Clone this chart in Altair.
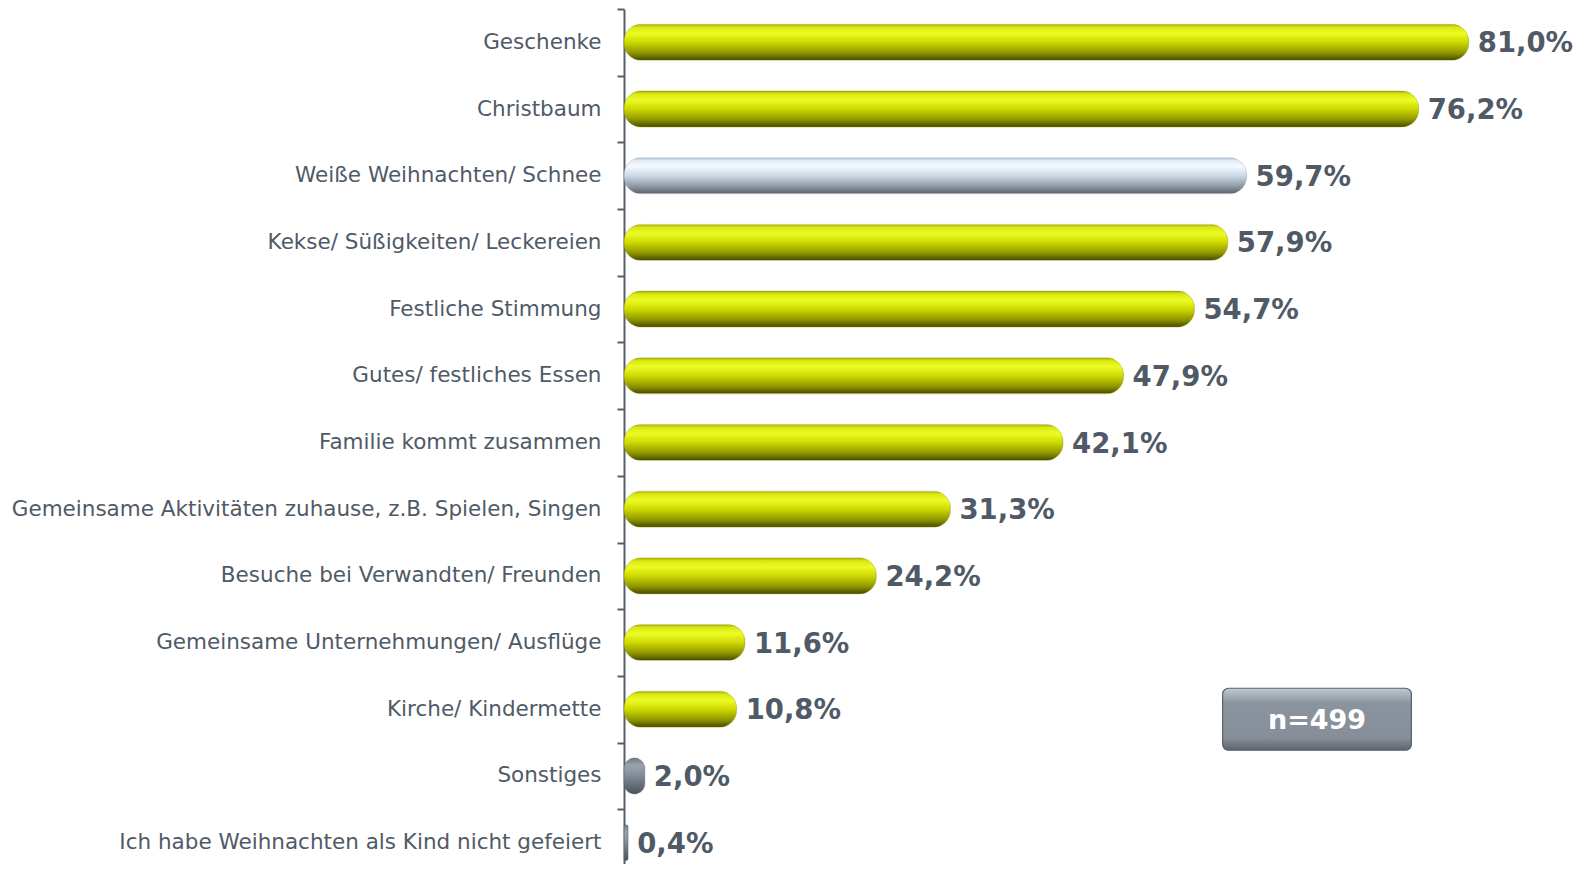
import altair as alt
import pandas as pd

categories = [
    "Geschenke",
    "Christbaum",
    "Weiße Weihnachten/ Schnee",
    "Kekse/ Süßigkeiten/ Leckereien",
    "Festliche Stimmung",
    "Gutes/ festliches Essen",
    "Familie kommt zusammen",
    "Gemeinsame Aktivitäten zuhause, z.B. Spielen, Singen",
    "Besuche bei Verwandten/ Freunden",
    "Gemeinsame Unternehmungen/ Ausflüge",
    "Kirche/ Kindermette",
    "Sonstiges",
    "Ich habe Weihnachten als Kind nicht gefeiert",
]
values = [81.0, 76.2, 59.7, 57.9, 54.7, 47.9, 42.1, 31.3, 24.2, 11.6, 10.8, 2.0, 0.4]
groups = ["y", "y", "b", "y", "y", "y", "y", "y", "y", "y", "y", "g", "g"]
labels = ["81,0%", "76,2%", "59,7%", "57,9%", "54,7%", "47,9%", "42,1%", "31,3%",
          "24,2%", "11,6%", "10,8%", "2,0%", "0,4%"]

note_text = ["n=499"]
note_row = ["Kirche/ Kindermette"]
note_x = [57.4]
note_x2 = [75.5]
note_mid = [66.45]

df = pd.DataFrame({"cat": categories, "val": values, "grp": groups, "lab": labels})
note_df = pd.DataFrame({"cat": note_row, "x": note_x, "x2": note_x2, "mid": note_mid, "t": note_text})

FONT = "DejaVu Sans"
AXC = "#56606c"


def grad(stops):
    return alt.Gradient(
        gradient="linear", x1=0, x2=0, y1=0, y2=1,
        stops=[alt.GradientStop(offset=o, color=c) for o, c in stops],
    )


yellow = grad([(0, "#a9b000"), (0.08, "#d8e810"), (0.25, "#eefc26"), (0.5, "#cdd900"),
               (0.8, "#8e9400"), (1, "#454800")])
blue = grad([(0, "#b6c3d2"), (0.08, "#e2ecf8"), (0.25, "#f5f9ff"), (0.5, "#ccd8e6"),
             (0.8, "#8d97a4"), (1, "#59606a")])
gray = grad([(0, "#6f7784"), (0.2, "#9aa2ad"), (0.4, "#8c94a0"), (0.7, "#6c7480"),
             (1, "#4b525c")])
boxg = grad([(0, "#c2c9d1"), (0.12, "#a6aeb8"), (0.25, "#8a939e"), (0.8, "#858e99"),
             (1, "#5c646f")])

yscale = alt.Scale(domain=categories, range=[1, 868], paddingInner=0.0, paddingOuter=0.0)
xscale = alt.Scale(domain=[0, 92.05])

base = alt.Chart(df).encode(
    y=alt.Y("cat:N", sort=categories, scale=yscale,
            axis=alt.Axis(title=None, labelFont=FONT, labelFontSize=21.5, labelColor="#4f5a67",
                          labelPadding=16, tickSize=7, tickColor=AXC, tickWidth=2,
                          domainColor=AXC, domainWidth=2, tickBand="extent",
                          labelLimit=700, grid=False)),
    x=alt.X("val:Q", scale=xscale, axis=None),
)

layers = []
for g, fill in [("y", yellow), ("b", blue), ("g", gray)]:
    layers.append(
        base.transform_filter(alt.datum.grp == g).mark_bar(
            size=36, cornerRadius=17, fill=fill, stroke="#8f9400" if g == "y" else ("#8a96a6" if g == "b" else "#5a616b"),
            strokeWidth=0.6, strokeOpacity=0.6,
        )
    )

text = base.mark_text(align="left", baseline="middle", dx=9, dy=2, font=FONT, fontSize=27.5,
                      fontWeight="bold", color="#505a66").encode(text="lab:N")

box = alt.Chart(note_df).mark_bar(size=62, yOffset=10, cornerRadius=6, fill=boxg,
                                  stroke="#59616c", strokeWidth=1.2).encode(
    y=alt.Y("cat:N", sort=categories, scale=yscale),
    x=alt.X("x:Q", scale=xscale),
    x2="x2:Q",
)
box_text = alt.Chart(note_df).mark_text(align="center", baseline="middle", dy=12, font=FONT,
                                        fontSize=27, fontWeight="bold", color="#ffffff").encode(
    y=alt.Y("cat:N", sort=categories, scale=yscale),
    x=alt.X("mid:Q", scale=xscale),
    text="t:N",
)

chart = alt.layer(*layers, text, box, box_text).properties(
    width=960, height=856,
    autosize=alt.AutoSizeParams(type="none"),
    padding={"left": 616, "top": 0, "right": 0, "bottom": 0},
).configure_view(stroke=None)

chart.save("out.html", embed_options={"renderer": "svg", "actions": False})
